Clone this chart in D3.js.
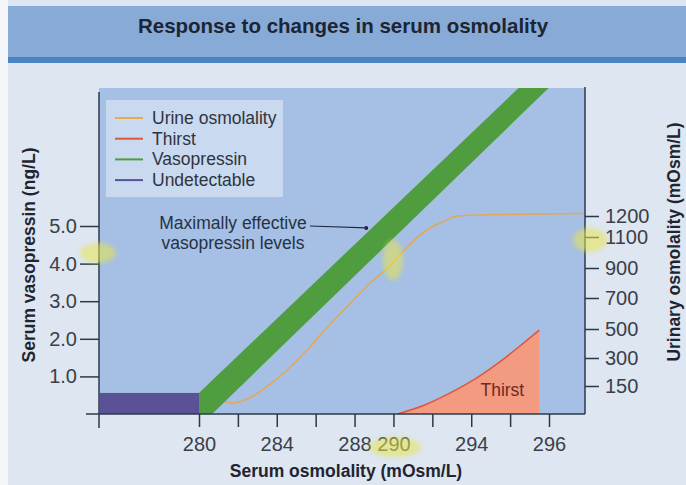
<!DOCTYPE html>
<html>
<head>
<meta charset="utf-8">
<script src="https://cdn.jsdelivr.net/npm/d3@7"></script>
<style>
  body { margin: 0; background: #dde6f1; }
  svg text { font-family: "Liberation Sans", Arial, sans-serif; }
</style>
</head>
<body>
<svg id="chart"></svg>
<script>
// x axis: serum osmolality (mOsm/L); the printed labels skip around, kept as in the figure
var osmTicks = [280, 282, 284, 286, 288, 290, 292, 294, 296, 298]
var osmTickLabels = ["280", "", "284", "", "288", "290", "", "294", "", "296"]
// left axis: serum vasopressin (ng/L)
var vasoTicks = [1, 2, 3, 4, 5]
// right axis: urinary osmolality (mOsm/L), uneven spacing in the print
var urineTicks = [150, 300, 500, 700, 900, 1100, 1200]
var urineTickLevels = [0, 150, 300, 500, 700, 900, 1100, 1200]

// urine osmolality curve
var urineOsm = [281.0, 281.8, 282.6, 283.6, 284.7, 285.7, 286.7, 287.8, 288.8, 289.7, 290.5, 291.5, 292.5, 293.3, 294.5, 299.8]
var urineVal = [75, 59, 86, 155, 252, 376, 526, 668, 800, 900, 1010, 1119, 1171, 1200, 1205, 1212]

// vasopressin band (low / high edge, ng/L)
var vasoOsm = [280, 280.67, 298.5]
var vasoLow = [0, 0, 8.93]
var vasoHigh = [0.56, 0.89, 9.69]

// thirst (drawn against the left scale)
var thirstOsm = [290.2, 291.5, 292.8, 294.1, 295.4, 296.7, 297.5]
var thirstVal = [0, 0.22, 0.53, 0.90, 1.36, 1.89, 2.23]

// undetectable vasopressin
var undetOsm = [274.9, 280]
var undetVal = 0.56

var legendNames = ["Urine osmolality", "Thirst", "Vasopressin", "Undetectable"]
var legendColors = ["#e6ad4c", "#e0553c", "#4f9d3f", "#5b5196"]

var width = 686, height = 485
var svg = d3.select("#chart").attr("width", width).attr("height", height)

var plotLeft = 99, plotRight = 585, plotTop = 88, plotBottom = 414
var x = d3.scaleLinear().domain([280, 298]).range([199, 549])
var yL = d3.scaleLinear().domain([0, 5]).range([plotBottom, 226])
var yR = d3.scaleLinear().domain(urineTickLevels).range([414, 386, 358, 329, 298, 268, 237, 216])

var axisColor = "#2c384a"
var font = '"Liberation Sans", Arial, sans-serif'

// page + header
svg.append("rect").attr("width", width).attr("height", height).attr("fill", "#dde6f1")
svg.append("rect").attr("x", 8).attr("y", 6).attr("width", width - 8).attr("height", 53).attr("fill", "#88aad6")
svg.append("rect").attr("x", 8).attr("y", 57).attr("width", width - 8).attr("height", 6).attr("fill", "#4b84c2")
svg.append("rect").attr("x", 0).attr("y", 0).attr("width", 8).attr("height", height).attr("fill", "#f4f6f9")
svg.append("text")
    .attr("x", 343).attr("y", 33)
    .attr("text-anchor", "middle")
    .attr("font-size", 20.5).attr("font-weight", "bold")
    .attr("fill", "#1b2533")
    .text("Response to changes in serum osmolality")

// plot background
svg.append("rect")
    .attr("x", plotLeft).attr("y", plotTop)
    .attr("width", plotRight - plotLeft).attr("height", plotBottom - plotTop)
    .attr("fill", "#a5c0e4")

svg.append("clipPath").attr("id", "clip")
    .append("rect")
    .attr("x", plotLeft).attr("y", plotTop)
    .attr("width", plotRight - plotLeft).attr("height", plotBottom - plotTop)

var g = svg.append("g").attr("clip-path", "url(#clip)")

// undetectable block
g.append("rect")
    .attr("x", x(undetOsm[0]))
    .attr("y", yL(undetVal))
    .attr("width", x(undetOsm[1]) - x(undetOsm[0]))
    .attr("height", yL(0) - yL(undetVal))
    .attr("fill", "#5b5196")

// urine osmolality
var urine = urineOsm.map((d, i) => [d, urineVal[i]])
g.append("path")
    .datum(urine)
    .attr("fill", "none")
    .attr("stroke", "#e2a857")
    .attr("stroke-width", 1.6)
    .attr("d", d3.line().x(d => x(d[0])).y(d => yR(d[1])).curve(d3.curveMonotoneX))

// thirst
var thirst = thirstOsm.map((d, i) => [d, thirstVal[i]])
g.append("path")
    .datum(thirst)
    .attr("fill", "#f29b81")
    .attr("d", d3.area().x(d => x(d[0])).y0(yL(0)).y1(d => yL(d[1])).curve(d3.curveMonotoneX))
g.append("path")
    .datum(thirst)
    .attr("fill", "none")
    .attr("stroke", "#e0553c")
    .attr("stroke-width", 1.5)
    .attr("d", d3.line().x(d => x(d[0])).y(d => yL(d[1])).curve(d3.curveMonotoneX))
svg.append("text")
    .attr("x", x(295.6)).attr("y", 396)
    .attr("text-anchor", "middle")
    .attr("font-size", 17.5)
    .attr("fill", "#6e2a22")
    .text("Thirst")

// vasopressin band
var band = vasoOsm.map((d, i) => [d, vasoLow[i], vasoHigh[i]])
g.append("path")
    .datum(band)
    .attr("fill", "#4f9d3f")
    .attr("d", d3.area().x(d => x(d[0])).y0(d => yL(d[1])).y1(d => yL(d[2])))

// legend
var lg = svg.append("g").attr("transform", "translate(106,100)")
lg.append("rect").attr("width", 177).attr("height", 97).attr("fill", "#ffffff").attr("opacity", 0.4)
legendNames.forEach((name, i) => {
    var yy = 18 + i * 20.7
    lg.append("line")
        .attr("x1", 9).attr("x2", 37).attr("y1", yy).attr("y2", yy)
        .attr("stroke", legendColors[i]).attr("stroke-width", 2)
    lg.append("text")
        .attr("x", 46).attr("y", yy + 6)
        .attr("font-size", 17.5).attr("fill", "#2f3440")
        .text(name)
})

// annotation, pointing at the band edge
var annAt = [288.6, 4.95]
var ann = svg.append("g")
ann.append("text").attr("x", 233).attr("y", 229).attr("text-anchor", "middle")
    .attr("font-size", 17.5).attr("fill", "#263244").text("Maximally effective")
ann.append("text").attr("x", 233).attr("y", 249).attr("text-anchor", "middle")
    .attr("font-size", 17.5).attr("fill", "#263244").text("vasopressin levels")
ann.append("line")
    .attr("x1", 310).attr("y1", 226)
    .attr("x2", x(annAt[0])).attr("y2", yL(annAt[1]))
    .attr("stroke", "#1d2a44").attr("stroke-width", 1.2)
ann.append("circle").attr("cx", x(annAt[0])).attr("cy", yL(annAt[1])).attr("r", 2).attr("fill", "#1d2a44")

// axes
var xAxis = svg.append("g")
    .attr("transform", "translate(0," + plotBottom + ")")
    .call(d3.axisBottom(x).tickValues(osmTicks).tickFormat((d, i) => osmTickLabels[i])
        .tickSize(13).tickPadding(10).tickSizeOuter(0))
var yAxisL = svg.append("g")
    .attr("transform", "translate(" + plotLeft + ",0)")
    .call(d3.axisLeft(yL).tickValues(vasoTicks).tickFormat(d3.format(".1f"))
        .tickSize(19).tickPadding(3).tickSizeOuter(0))
var yAxisR = svg.append("g")
    .attr("transform", "translate(" + plotRight + ",0)")
    .call(d3.axisRight(yR).tickValues(urineTicks).tickFormat(d3.format("d"))
        .tickSize(14).tickPadding(6).tickSizeOuter(0))

;[xAxis, yAxisL, yAxisR].forEach(a => {
    a.select(".domain").remove()
    a.attr("font-family", font).attr("font-size", 20)
    a.selectAll("line").attr("stroke", axisColor).attr("stroke-width", 1.5)
    a.selectAll("text").attr("fill", "#3b3f47")
})

// axis lines
svg.append("line").attr("x1", 86).attr("x2", plotRight).attr("y1", plotBottom).attr("y2", plotBottom)
    .attr("stroke", axisColor).attr("stroke-width", 1.5)
svg.append("line").attr("x1", plotLeft).attr("x2", plotLeft).attr("y1", plotTop + 4).attr("y2", plotBottom + 14)
    .attr("stroke", axisColor).attr("stroke-width", 1.5)
svg.append("line").attr("x1", plotRight).attr("x2", plotRight).attr("y1", plotTop - 1).attr("y2", plotBottom)
    .attr("stroke", axisColor).attr("stroke-width", 1.5)

// axis titles
svg.append("text")
    .attr("x", 346).attr("y", 477)
    .attr("text-anchor", "middle")
    .attr("font-size", 17.5).attr("font-weight", "bold").attr("fill", "#1f2530")
    .text("Serum osmolality (mOsm/L)")
svg.append("text")
    .attr("transform", "translate(35,255) rotate(-90)")
    .attr("text-anchor", "middle")
    .attr("font-size", 17.5).attr("font-weight", "bold").attr("fill", "#1f2530")
    .text("Serum vasopressin (ng/L)")
svg.append("text")
    .attr("transform", "translate(680,242) rotate(-90)")
    .attr("text-anchor", "middle")
    .attr("font-size", 17.5).attr("font-weight", "bold").attr("fill", "#1f2530")
    .text("Urinary osmolality (mOsm/L)")

// highlighter marks on the printed page
var defs = svg.append("defs")
defs.append("filter").attr("id", "soft").append("feGaussianBlur").attr("stdDeviation", 2)
var marks = [[98, 253, 18, 10], [393, 260, 10, 20], [590, 240, 17, 12], [395, 447, 26, 10]]
svg.append("g").attr("filter", "url(#soft)")
    .selectAll("ellipse").data(marks).enter().append("ellipse")
    .attr("cx", d => d[0]).attr("cy", d => d[1]).attr("rx", d => d[2]).attr("ry", d => d[3])
    .attr("fill", "#e8e64a").attr("opacity", 0.55)
</script>
</body>
</html>
